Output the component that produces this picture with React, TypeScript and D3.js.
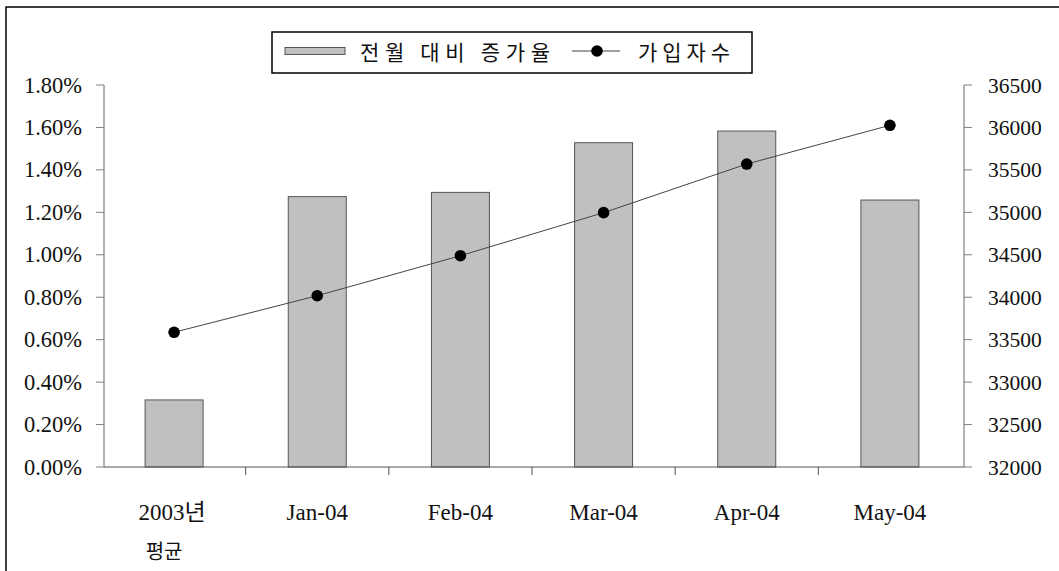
import React from 'react';
import * as d3 from 'd3';

const categories = ['2003년 평균', 'Jan-04', 'Feb-04', 'Mar-04', 'Apr-04', 'May-04'];
const growthRate = [0.316, 1.274, 1.294, 1.528, 1.583, 1.258]; // percent
const subscribers = [33587, 34018, 34489, 34996, 35569, 36025];
const leftTicks = [0, 0.2, 0.4, 0.6, 0.8, 1.0, 1.2, 1.4, 1.6, 1.8];
const rightTicks = [32000, 32500, 33000, 33500, 34000, 34500, 35000, 35500, 36000, 36500];
const legendBar = '전월 대비 증가율';
const legendLine = '가입자수';

const W = 1059;
const H = 571;
const plotLeft = 104;
const plotRight = 964;
const plotTop = 85;
const plotBottom = 467;

const latin = '"Liberation Serif", "DejaVu Serif", serif';
const korean = '"Noto Sans CJK KR", "Noto Sans", sans-serif';
const ink = '#111';

export default function App() {
  const x = d3.scaleBand<string>().domain(categories).range([102.5, 961.5]).padding(0);
  const yL = d3.scaleLinear().domain([0, 1.8]).range([plotBottom, plotTop]);
  const yR = d3.scaleLinear().domain([32000, 36500]).range([plotBottom, plotTop]);
  const bw = x.bandwidth() * 0.405;
  const cx = (c: string) => (x(c) as number) + x.bandwidth() / 2;
  const line = d3
    .line<number>()
    .x((_, i) => cx(categories[i]))
    .y((d) => yR(d));
  const fmtL = (v: number) => v.toFixed(2) + '%';

  return (
    <svg
      width={W}
      height={H}
      style={{ position: 'absolute', left: 0, top: 0, background: '#fff' }}
    >
      <rect x={6} y={7} width={W + 10} height={H + 10} fill="#fff" stroke="#000" strokeWidth={1.5} />

      {/* bars */}
      {categories.map((c, i) => (
        <rect
          key={c}
          x={cx(c) - bw / 2}
          y={yL(growthRate[i])}
          width={bw}
          height={plotBottom - yL(growthRate[i])}
          fill="#c0c0c0"
          stroke="#555"
          strokeWidth={1}
        />
      ))}

      {/* axes */}
      <line x1={plotLeft} x2={plotLeft} y1={plotTop} y2={plotBottom} stroke="#808080" strokeWidth={1.2} />
      <line x1={plotRight} x2={plotRight} y1={plotTop} y2={plotBottom} stroke="#808080" strokeWidth={1.2} />
      <line x1={plotLeft} x2={plotRight} y1={plotBottom} y2={plotBottom} stroke="#555" strokeWidth={1.2} />

      {leftTicks.map((t) => (
        <g key={'l' + t}>
          <line x1={96} x2={plotLeft} y1={yL(t)} y2={yL(t)} stroke="#808080" strokeWidth={1} />
          <text x={82} y={yL(t) + 7.5} textAnchor="end" fontFamily={latin} fontSize={22.5} fill={ink}>
            {fmtL(t)}
          </text>
        </g>
      ))}
      {rightTicks.map((t) => (
        <g key={'r' + t}>
          <line x1={plotRight} x2={972} y1={yR(t)} y2={yR(t)} stroke="#808080" strokeWidth={1} />
          <text x={988} y={yR(t) + 7.5} textAnchor="start" fontFamily={latin} fontSize={21.5} fill={ink}>
            {t}
          </text>
        </g>
      ))}
      {categories.slice(1).map((c) => (
        <line
          key={'xt' + c}
          x1={x(c) as number}
          x2={x(c) as number}
          y1={plotBottom}
          y2={plotBottom + 8}
          stroke="#555"
          strokeWidth={1}
        />
      ))}
      {categories.map((c, i) => {
        const parts = c.split(' ');
        return (
          <g key={'xl' + c}>
            <text
              x={cx(c) - (i === 0 ? 2 : 0)}
              y={520}
              textAnchor="middle"
              fontFamily={`${latin}, ${korean}`}
              fontSize={23}
              fill={ink}
            >
              {parts[0]}
            </text>
            {parts[1] && (
              <text x={cx(c) - 10} y={559} textAnchor="middle" fontFamily={korean} fontSize={20} fill={ink}>
                {parts[1]}
              </text>
            )}
          </g>
        );
      })}

      {/* line */}
      <path d={line(subscribers) || ''} fill="none" stroke="#444" strokeWidth={1} />
      {subscribers.map((v, i) => (
        <circle key={'p' + i} cx={cx(categories[i])} cy={yR(v)} r={5.8} fill="#000" />
      ))}

      {/* legend */}
      <rect x={272} y={32} width={480} height={41} fill="#fff" stroke="#000" strokeWidth={1.5} />
      <rect x={285} y={47.5} width={60} height={7} fill="#c0c0c0" stroke="#555" strokeWidth={1} />
      <text
        x={360}
        y={60}
        fontFamily={korean}
        fontSize={21}
        textLength={190}
        lengthAdjust="spacing"
        fill={ink}
      >
        {legendBar}
      </text>
      <line x1={572} x2={620} y1={51} y2={51} stroke="#444" strokeWidth={1} />
      <circle cx={597} cy={51} r={5.8} fill="#000" />
      <text
        x={638}
        y={60}
        fontFamily={korean}
        fontSize={21}
        textLength={92}
        lengthAdjust="spacing"
        fill={ink}
      >
        {legendLine}
      </text>
    </svg>
  );
}
